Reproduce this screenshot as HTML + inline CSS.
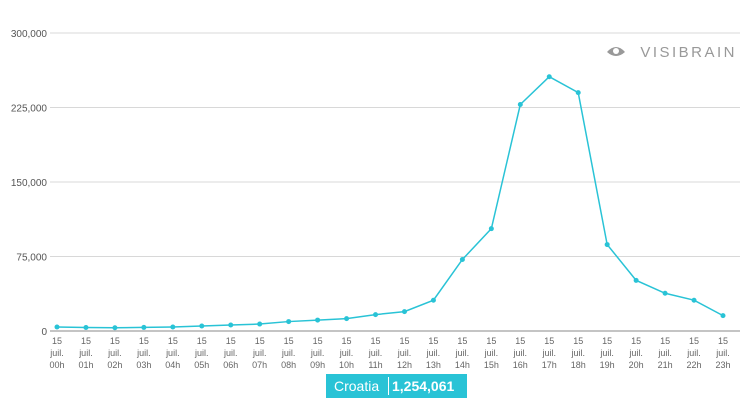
<!DOCTYPE html>
<html><head><meta charset="utf-8"><style>
body{margin:0;background:#fff;font-family:"Liberation Sans",sans-serif;}
#wrap{position:relative;width:754px;height:408px;overflow:hidden;}
#badge{position:absolute;left:326px;top:374px;width:141px;height:24px;background:#29c3d6;color:#fff;font-size:14px;line-height:24px;white-space:nowrap;}
#badge span{position:absolute;left:8px;top:0;}
#badge i{position:absolute;left:62px;top:3px;width:1px;height:18px;background:#fff;}
#badge b{position:absolute;left:66px;top:0;}
</style></head><body>
<div id="wrap">
<svg id="chart" width="754" height="408"></svg>
<div id="badge"><span>Croatia</span><i></i><b>1,254,061</b></div>
</div>
<script>
const hours=["00h","01h","02h","03h","04h","05h","06h","07h","08h","09h","10h","11h","12h","13h","14h","15h","16h","17h","18h","19h","20h","21h","22h","23h"];
const values=[4000,3500,3300,3600,4000,5000,6000,7000,9500,11000,12500,16500,19500,31000,72000,103000,228000,256000,240000,87000,51000,38000,31000,15500];
const yTicks=[0,75000,150000,225000,300000];
const svg=document.getElementById('chart');
const NS="http://www.w3.org/2000/svg";
const x0=57,x1=723,yb=331,yt=33,ymax=300000;
const xs=i=>x0+(x1-x0)*i/(hours.length-1);
const ys=v=>yb-(yb-yt)*v/ymax;
function mk(t,a){const e=document.createElementNS(NS,t);for(const k in a)e.setAttribute(k,a[k]);svg.appendChild(e);return e;}
yTicks.forEach(v=>{
 const l=mk('line',{x1:50,x2:740,y1:ys(v),y2:ys(v),stroke:v===0?'#888':'#d8d8d8','stroke-width':1});
 
 
 const t=mk('text',{x:47,y:ys(v)+4,'text-anchor':'end','font-size':10,fill:'#555'});
 t.textContent=v.toLocaleString('en-US');
 
 
});
hours.forEach((h,i)=>{
 const t=mk('text',{x:xs(i),'text-anchor':'middle','font-size':9,fill:'#666'});
 
 
 ["15","juil.",h].forEach((s,j)=>{const ts=document.createElementNS(NS,'tspan');ts.setAttribute('x',xs(i));ts.setAttribute('y',344+j*12);ts.textContent=s;t.appendChild(ts);});
});
const p=mk('polyline',{points:values.map((v,i)=>xs(i)+','+ys(v)).join(' '),fill:'none',stroke:'#29c3d6','stroke-width':1.5});


values.forEach((v,i)=>{
 const c=mk('circle',{cx:xs(i),cy:ys(v),r:2.5,fill:'#29c3d6'});
 
 
});
const lg=mk('text',{x:737,y:57,'text-anchor':'end','font-size':15,fill:'#999','letter-spacing':'2.5'});
lg.textContent='VISIBRAIN';


const eye=mk('path',{d:'M607 52 Q616 42 625 52 Q616 60 607 52 Z',fill:'#999'});


const pu=mk('circle',{cx:616,cy:51,r:3,fill:'#fff'});


</script>
</body></html>
